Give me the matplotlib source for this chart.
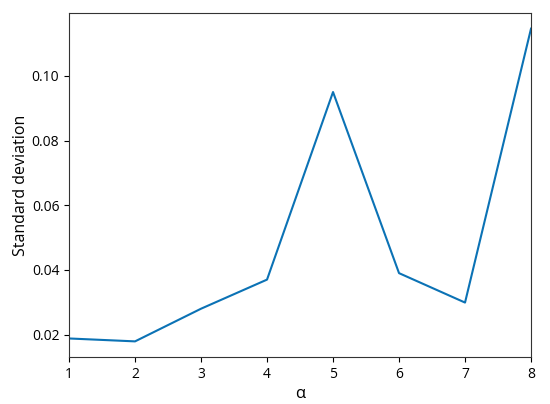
import matplotlib
matplotlib.use("Agg")
import matplotlib.pyplot as plt

# values
alpha = [1, 2, 3, 4, 5, 6, 7, 8]
std_dev = [0.0188, 0.0179, 0.028, 0.037, 0.095, 0.039, 0.0299, 0.1146]
y_ticks = [0.02, 0.04, 0.06, 0.08, 0.10]

plt.rcParams['font.family'] = ['Open Sans', 'DejaVu Sans']
plt.rcParams['font.size'] = 10

fig = plt.figure(figsize=(5.5, 4.04), dpi=100)
ax = fig.add_axes([0.1255, 0.1163, 0.84, 0.8515])

ax.plot(alpha, std_dev, color='#0b72b5', linewidth=1.5)
ax.set_xlim(1, 8)
ax.set_yticks(y_ticks)
ax.set_yticklabels([f"{v:.2f}" for v in y_ticks])
ax.set_xlabel('α', fontsize=12, labelpad=3)
ax.set_ylabel('Standard deviation', fontsize=11.5, labelpad=2)

for s in ax.spines.values():
    s.set_color('#333333')

fig.savefig('out.png', dpi=100)
